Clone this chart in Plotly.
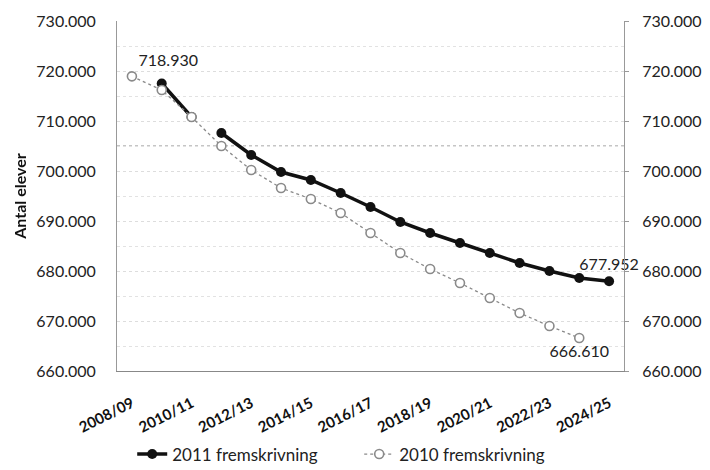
import plotly.graph_objects as go

categories = ["2008/09", "2009/10", "2010/11", "2011/12", "2012/13", "2013/14", "2014/15",
              "2015/16", "2016/17", "2017/18", "2018/19", "2019/20", "2020/21", "2021/22",
              "2022/23", "2023/24", "2024/25"]

# 2011 fremskrivning: actual part (2009/10-2010/11) and projection (2011/12-2024/25)
s2011_actual_x = ["2009/10", "2010/11"]
s2011_actual_y = [717500, 710800]
s2011_proj_x = categories[3:]
s2011_proj_y = [707600, 703200, 699800, 698200, 695600, 692800, 689800, 687600,
                685600, 683600, 681600, 680000, 678600, 677952]

s2010_x = categories[:16]
s2010_y = [718930, 716200, 710800, 705000, 700200, 696600, 694400, 691600, 687600,
           683600, 680400, 677600, 674600, 671600, 669000, 666610]

tick_labels = categories[::2]

font_family = "Lato, 'Open Sans', Arial, sans-serif"

# one trace for 2011 with a gap between actual and projection
x2011 = s2011_actual_x + [s2011_actual_x[-1]] + s2011_proj_x
y2011 = s2011_actual_y + [None] + s2011_proj_y
text2011 = ["" for _ in y2011]
text2011[-1] = f"{s2011_proj_y[-1]:,}".replace(",", ".")

text2010 = ["" for _ in s2010_y]
text2010[0] = f"{s2010_y[0]:,}".replace(",", ".")
text2010[-1] = f"{s2010_y[-1]:,}".replace(",", ".")
pos2010 = ["bottom center"] * len(s2010_y)
pos2010[0] = "top right"

fig = go.Figure()
fig.add_trace(go.Scatter(
    x=x2011, y=y2011, name="2011 fremskrivning", mode="lines+markers+text",
    line=dict(color="#111111", width=3.5),
    marker=dict(color="#111111", size=10, symbol="circle"),
    text=text2011, textposition="top center",
    textfont=dict(size=16, color="#222222", family=font_family),
    connectgaps=False, cliponaxis=False,
))
fig.add_trace(go.Scatter(
    x=s2010_x, y=s2010_y, name="2010 fremskrivning", mode="lines+markers+text",
    line=dict(color="#8a8a8a", width=1.3, dash="dot"),
    marker=dict(color="white", size=9, symbol="circle",
                line=dict(color="#8a8a8a", width=1.6)),
    text=text2010, textposition=pos2010,
    textfont=dict(size=16, color="#222222", family=font_family),
    cliponaxis=False,
))
# invisible trace to carry the right-hand axis
fig.add_trace(go.Scatter(
    x=s2010_x, y=s2010_y, yaxis="y2", mode="markers", opacity=0,
    showlegend=False, hoverinfo="skip",
))

yrange = [660000, 730000]
fig.update_layout(
    width=710, height=470,
    margin=dict(l=109, r=94, t=13, b=107),
    paper_bgcolor="white", plot_bgcolor="white",
    separators=",.",
    font=dict(family=font_family, size=16, color="#222222"),
    showlegend=True,
    legend=dict(orientation="h", x=0.03, xanchor="left", xref="paper",
                y=0.05, yanchor="middle", yref="container",
                font=dict(size=17, color="#222222"), entrywidth=182,
                entrywidthmode="pixels"),
    xaxis=dict(
        type="category", categoryorder="array", categoryarray=categories,
        tickmode="array", tickvals=tick_labels,
        ticktext=[f"<b>{t}</b>" for t in tick_labels],
        tickangle=-27, tickfont=dict(size=15, color="#111111"),
        showline=True, linecolor="#888888", linewidth=1, automargin=False,
        showgrid=False, ticks="", ticklabelstandoff=17,
        range=[-0.5, len(categories) - 0.5],
    ),
    yaxis=dict(
        range=yrange, dtick=10000, tickformat=",d", automargin=False,
        showline=True, linecolor="#999999", linewidth=1,
        showgrid=True, gridcolor="#dddddd", griddash="dot", gridwidth=1,
        minor=dict(dtick=5000, showgrid=True, gridcolor="#e2e2e2", griddash="dot"),
        zeroline=False, ticks="", ticklabelstandoff=17,
        title=dict(text="<b>Antal elever</b>", font=dict(size=16, color="#111111"),
                   standoff=5),
        tickfont=dict(size=16, color="#222222"),
    ),
    yaxis2=dict(
        range=yrange, dtick=10000, tickformat=",d", overlaying="y", side="right",
        showline=True, linecolor="#999999", linewidth=1, showgrid=False,
        zeroline=False, ticks="outside", ticklen=4, tickcolor="#999999",
        ticklabelstandoff=10, automargin=False,
        tickfont=dict(size=16, color="#222222"),
    ),
)
fig.add_shape(type="line", xref="paper", yref="y", x0=0, x1=1, y0=705000, y1=705000,
              line=dict(color="#8a8a8a", width=1, dash="dot"), layer="between")

fig.write_html("out.html")
